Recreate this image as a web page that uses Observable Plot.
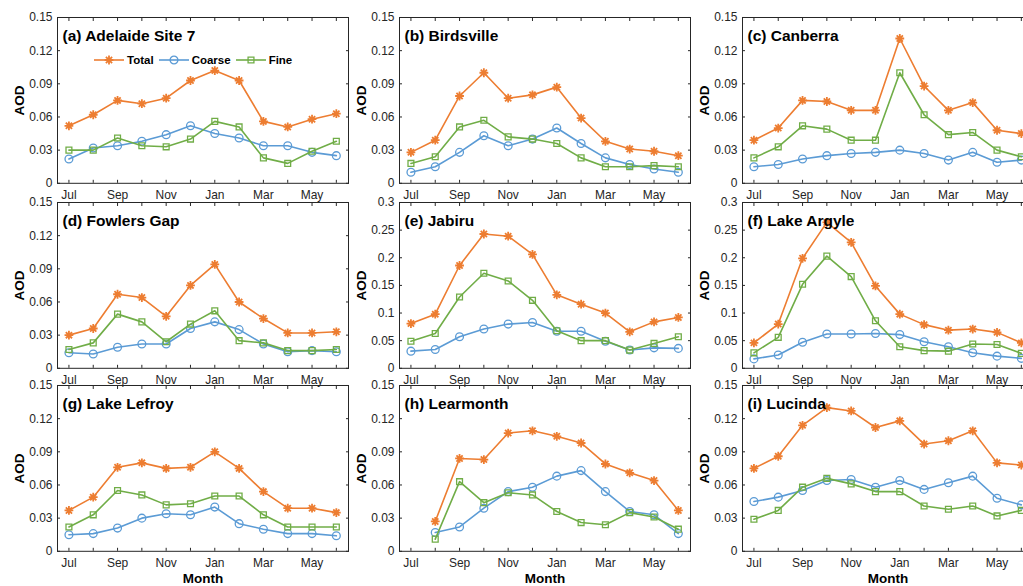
<!DOCTYPE html>
<html><head><meta charset="utf-8">
<script src="https://cdn.jsdelivr.net/npm/d3@7"></script>
<script src="https://cdn.jsdelivr.net/npm/@observablehq/plot@0.6"></script>
<style>
html,body{margin:0;padding:0;background:#fff;overflow:hidden;}
#fig{position:relative;width:1023px;height:586px;overflow:hidden;font-family:"Liberation Sans",Arial,sans-serif;}
.panel{position:absolute;}
.panel svg{overflow:visible;background:transparent;max-width:none !important;}
#legend{position:absolute;display:flex;align-items:center;gap:5px;font-weight:bold;font-size:11.5px;color:#000;}
#legend .item{display:flex;align-items:center;}
#legend .item span{margin-left:3px;}
</style></head><body><div id="fig"></div>
<script>
// ---- categories & tick labels ----
const months = ["Jul","Aug","Sep","Oct","Nov","Dec","Jan","Feb","Mar","Apr","May","Jun"];
const monthTickLabels = ["Jul","","Sep","","Nov","","Jan","","Mar","","May",""];
const aodTicksSmall = [0, 0.03, 0.06, 0.09, 0.12, 0.15];
const aodTicksLarge = [0, 0.05, 0.1, 0.15, 0.2, 0.25, 0.3];
const seriesNames = ["Total", "Coarse", "Fine"];
const seriesColors = ["#ED7D31", "#5B9BD5", "#70AD47"];
const siteTitles = ["(a) Adelaide Site 7","(b) Birdsville","(c) Canberra","(d) Fowlers Gap","(e) Jabiru","(f) Lake Argyle","(g) Lake Lefroy","(h) Learmonth","(i) Lucinda"];

// ---- series values (AOD) ----
const adelaideTotal  = [0.052,0.062,0.075,0.072,0.077,0.093,0.102,0.093,0.056,0.051,0.058,0.063];
const adelaideCoarse = [0.022,0.032,0.034,0.038,0.044,0.052,0.045,0.041,0.034,0.034,0.028,0.025];
const adelaideFine   = [0.030,0.030,0.041,0.034,0.033,0.040,0.056,0.051,0.023,0.018,0.029,0.038];

const birdsvilleTotal  = [0.028,0.039,0.079,0.100,0.077,0.080,0.087,0.059,0.038,0.031,0.029,0.025];
const birdsvilleCoarse = [0.010,0.015,0.028,0.043,0.034,0.040,0.050,0.036,0.023,0.017,0.013,0.010];
const birdsvilleFine   = [0.018,0.024,0.051,0.057,0.042,0.040,0.036,0.023,0.015,0.015,0.016,0.015];

const canberraTotal  = [0.039,0.050,0.075,0.074,0.066,0.066,0.131,0.088,0.066,0.073,0.048,0.045];
const canberraCoarse = [0.015,0.017,0.022,0.025,0.027,0.028,0.030,0.027,0.021,0.028,0.019,0.021];
const canberraFine   = [0.023,0.033,0.052,0.049,0.039,0.039,0.100,0.062,0.044,0.046,0.030,0.024];

const fowlersTotal  = [0.030,0.036,0.067,0.064,0.047,0.075,0.094,0.060,0.045,0.032,0.032,0.033];
const fowlersCoarse = [0.014,0.013,0.019,0.022,0.022,0.036,0.042,0.035,0.022,0.015,0.016,0.015];
const fowlersFine   = [0.017,0.023,0.049,0.042,0.024,0.040,0.052,0.025,0.023,0.016,0.016,0.017];

const jabiruTotal  = [0.081,0.098,0.186,0.243,0.239,0.206,0.133,0.116,0.100,0.066,0.084,0.092];
const jabiruCoarse = [0.031,0.034,0.057,0.071,0.080,0.083,0.067,0.067,0.049,0.033,0.037,0.036];
const jabiruFine   = [0.049,0.063,0.129,0.172,0.158,0.123,0.068,0.050,0.050,0.033,0.045,0.057];

const argyleTotal  = [0.046,0.080,0.199,0.264,0.228,0.149,0.098,0.079,0.069,0.071,0.065,0.046];
const argyleCoarse = [0.017,0.024,0.047,0.062,0.062,0.063,0.061,0.048,0.039,0.028,0.022,0.018];
const argyleFine   = [0.028,0.056,0.152,0.203,0.166,0.086,0.039,0.032,0.031,0.044,0.043,0.027];

const lefroyTotal  = [0.037,0.049,0.076,0.080,0.075,0.076,0.090,0.075,0.054,0.039,0.039,0.035];
const lefroyCoarse = [0.015,0.016,0.021,0.030,0.034,0.033,0.040,0.025,0.020,0.016,0.016,0.014];
const lefroyFine   = [0.022,0.033,0.055,0.051,0.042,0.043,0.050,0.050,0.033,0.022,0.022,0.022];

const learmonthTotal  = [null,0.027,0.084,0.083,0.107,0.109,0.104,0.098,0.079,0.071,0.064,0.037];
const learmonthCoarse = [null,0.017,0.022,0.039,0.054,0.058,0.068,0.073,0.054,0.036,0.033,0.016];
const learmonthFine   = [null,0.011,0.063,0.044,0.053,0.051,0.036,0.026,0.024,0.035,0.031,0.020];

const lucindaTotal  = [0.075,0.086,0.114,0.130,0.127,0.112,0.118,0.097,0.100,0.109,0.080,0.078];
const lucindaCoarse = [0.045,0.049,0.055,0.064,0.065,0.058,0.064,0.056,0.062,0.068,0.048,0.042];
const lucindaFine   = [0.029,0.037,0.058,0.066,0.061,0.054,0.054,0.041,0.038,0.041,0.032,0.037];

const panels = [
  {title: siteTitles[0], series: [adelaideTotal, adelaideCoarse, adelaideFine], ticks: aodTicksSmall},
  {title: siteTitles[1], series: [birdsvilleTotal, birdsvilleCoarse, birdsvilleFine], ticks: aodTicksSmall},
  {title: siteTitles[2], series: [canberraTotal, canberraCoarse, canberraFine], ticks: aodTicksSmall},
  {title: siteTitles[3], series: [fowlersTotal, fowlersCoarse, fowlersFine], ticks: aodTicksSmall},
  {title: siteTitles[4], series: [jabiruTotal, jabiruCoarse, jabiruFine], ticks: aodTicksLarge},
  {title: siteTitles[5], series: [argyleTotal, argyleCoarse, argyleFine], ticks: aodTicksLarge},
  {title: siteTitles[6], series: [lefroyTotal, lefroyCoarse, lefroyFine], ticks: aodTicksSmall},
  {title: siteTitles[7], series: [learmonthTotal, learmonthCoarse, learmonthFine], ticks: aodTicksSmall},
  {title: siteTitles[8], series: [lucindaTotal, lucindaCoarse, lucindaFine], ticks: aodTicksSmall}
];

// ---- layout ----
const colLeft = [56.7, 399.3, 742];
const rowTop = [17.3, 201.7, 385.1];
const frameW = 291, frameH = 165.8;
const mL = 57, mT = 17, mR = 3;

const asteriskSymbol = {
  draw(ctx, size) {
    const r = Math.sqrt(size / Math.PI), d = r * Math.SQRT1_2;
    ctx.moveTo(-r, 0); ctx.lineTo(r, 0);
    ctx.moveTo(0, -r); ctx.lineTo(0, r);
    ctx.moveTo(-d, -d); ctx.lineTo(d, d);
    ctx.moveTo(-d, d); ctx.lineTo(d, -d);
  }
};
const markerSpec = [
  {symbol: asteriskSymbol, r: 4.4, strokeWidth: 1.8},
  {symbol: "circle", r: 3.9, strokeWidth: 1.3},
  {symbol: "square", r: 3.3, strokeWidth: 1.3}
];

const idx = months.map((m, i) => i);
const fig = document.getElementById("fig");
const font = "Liberation Sans, Arial, sans-serif";

panels.forEach((p, k) => {
  const col = k % 3, row = Math.floor(k / 3);
  const bottomRow = row === 2;
  const mB = bottomRow ? 36 : 18;
  const W = mL + frameW + mR, H = mT + frameH + mB;
  const marks = [];
  p.series.forEach((values, s) => {
    const data = idx.map(i => ({i, month: months[i], value: values[i]}));
    marks.push(Plot.line(data, {x: "i", y: "value", stroke: seriesColors[s], strokeWidth: 1.6}));
    marks.push(Plot.dot(data, {x: "i", y: "value", stroke: seriesColors[s], fill: "none",
      symbol: markerSpec[s].symbol, r: markerSpec[s].r, strokeWidth: markerSpec[s].strokeWidth}));
  });
  const yMax = p.ticks[p.ticks.length - 1];
  const chart = Plot.plot({
    width: W,
    height: H,
    marginLeft: mL, marginTop: mT, marginRight: mR, marginBottom: mB,
    style: {fontFamily: font, fontSize: "12px", color: "#262626", background: "transparent", overflow: "visible", maxWidth: "none"},
    x: {domain: [-0.47, 11.5], label: null},
    y: {domain: [0, yMax], label: null},
    marks: [
      Plot.axisY({anchor: "left", ticks: p.ticks, tickSize: 0, tickPadding: 5, tickFormat: d => String(d), label: null}),
      Plot.axisY({anchor: "left", ticks: p.ticks, tickSize: -3, tickFormat: () => "", label: null}),
      Plot.axisY({anchor: "right", ticks: p.ticks, tickSize: -3, tickFormat: () => "", label: null}),
      Plot.axisX({anchor: "bottom", ticks: idx, tickSize: 0, tickPadding: 7, tickFormat: i => monthTickLabels[i], label: null}),
      Plot.axisX({anchor: "bottom", ticks: idx, tickSize: -3, tickFormat: () => "", label: null}),
      Plot.axisX({anchor: "top", ticks: idx, tickSize: -3, tickFormat: () => "", label: null}),
      ...marks,
      Plot.frame({stroke: "#262626", strokeWidth: 1}),
      Plot.text([p.title], {frameAnchor: "top-left", dx: 5, dy: 18.5, textAnchor: "start", lineAnchor: "middle",
        fontWeight: "bold", fontSize: 15.5, fill: "#000"}),
      Plot.text(["AOD"], {frameAnchor: "left", dx: -38.3, rotate: -90, textAnchor: "middle", lineAnchor: "middle",
        fontWeight: "bold", fontSize: 13.5, fill: "#000"}),
      ...(bottomRow ? [Plot.text(["Month"], {frameAnchor: "bottom", dy: 27, textAnchor: "middle", lineAnchor: "middle",
        fontWeight: "bold", fontSize: 13.5, fill: "#000"})] : [])
    ]
  });
  chart.style.width = W + "px";
  chart.style.height = H + "px";
  const div = document.createElement("div");
  div.className = "panel";
  div.style.left = (colLeft[col] - mL) + "px";
  div.style.top = (rowTop[row] - mT) + "px";
  div.style.width = W + "px";
  div.style.height = H + "px";
  div.appendChild(chart);
  fig.appendChild(div);
});

// ---- legend (panel a) ----
const legend = document.createElement("div");
legend.id = "legend";
legend.style.left = "94px";
legend.style.top = "53.3px";
const ns = "http://www.w3.org/2000/svg";
seriesNames.forEach((name, s) => {
  const item = document.createElement("div");
  item.className = "item";
  const svg = document.createElementNS(ns, "svg");
  svg.setAttribute("width", 30); svg.setAttribute("height", 14);
  const line = document.createElementNS(ns, "line");
  line.setAttribute("x1", 0); line.setAttribute("x2", 30);
  line.setAttribute("y1", 7); line.setAttribute("y2", 7);
  line.setAttribute("stroke", seriesColors[s]); line.setAttribute("stroke-width", 1.6);
  svg.appendChild(line);
  const sym = markerSpec[s].symbol;
  const sz = Math.PI * markerSpec[s].r * markerSpec[s].r;
  const symObj = typeof sym === "string" ? (sym === "circle" ? d3.symbolCircle : d3.symbolSquare) : sym;
  const path = document.createElementNS(ns, "path");
  path.setAttribute("d", d3.symbol(symObj, sz)());
  path.setAttribute("transform", "translate(15,7)");
  path.setAttribute("fill", "none");
  path.setAttribute("stroke", seriesColors[s]);
  path.setAttribute("stroke-width", markerSpec[s].strokeWidth);
  svg.appendChild(path);
  item.appendChild(svg);
  const span = document.createElement("span");
  span.textContent = name;
  item.appendChild(span);
  legend.appendChild(item);
});
fig.appendChild(legend);
</script>
</body></html>
